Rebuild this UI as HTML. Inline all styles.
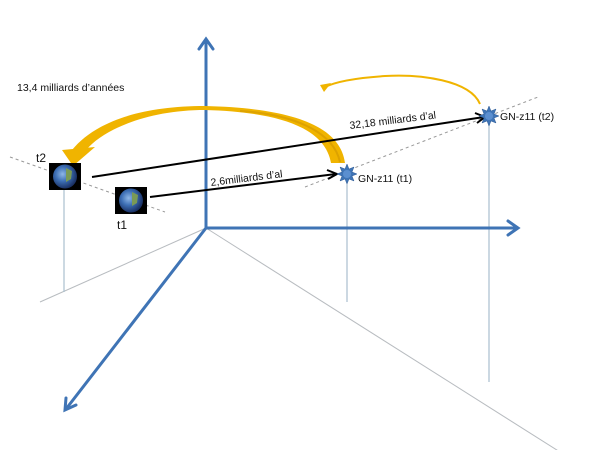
<!DOCTYPE html>
<html><head><style>
html,body{margin:0;padding:0;background:#fff;}
svg{display:block;}
text{font-family:"Liberation Sans",sans-serif;fill:#111;}
</style></head><body>
<svg width="600" height="450" viewBox="0 0 600 450" xmlns="http://www.w3.org/2000/svg">
<defs>
<radialGradient id="eg" cx="40%" cy="40%" r="60%">
<stop offset="0" stop-color="#8fb7e6"/><stop offset="0.5" stop-color="#3d6fb5"/><stop offset="1" stop-color="#1b3266"/>
</radialGradient>
</defs>
<g stroke="#b8bcc0" stroke-width="1" fill="none">
<line x1="206" y1="228" x2="40" y2="302"/>
<line x1="206" y1="228" x2="560" y2="452"/>
</g>
<g stroke="#a9bfcf" stroke-width="1.2" fill="none">
<line x1="64" y1="190" x2="64" y2="292"/>
<line x1="347" y1="184" x2="347" y2="302"/>
<line x1="489" y1="124" x2="489" y2="382"/>
</g>
<g stroke="#999" stroke-width="1" stroke-dasharray="3,3" fill="none">
<line x1="10" y1="157" x2="165" y2="212"/>
<line x1="305" y1="187" x2="538" y2="97"/>
</g>
<g stroke="#3f74b5" stroke-width="3" fill="none" stroke-linecap="round">
<line x1="206" y1="228" x2="206" y2="40"/>
<polyline points="199,49 206,39 213,49"/>
<line x1="206" y1="228" x2="517" y2="228"/>
<polyline points="508,221 518,228 508,235"/>
<line x1="206" y1="228" x2="66" y2="409"/>
<polyline points="66,398 65,410 76,405"/>
</g>
<!-- big yellow arc (filled band) -->
<path d="M345,163 C340,125 290,108 205,106 C140,106 95,122 72,150 L86,150 C105,128 150,110 205,110 C280,112 325,128 331,163 Z" fill="#f0b400"/>
<path d="M340,162 C333,130 290,114 240,111" stroke="#d49a00" stroke-width="2" fill="none" opacity="0.7"/>
<polygon points="62,150 95,147 73,166" fill="#f0b400"/>
<!-- small yellow arc -->
<path d="M480,104 C470,80 420,74 385,76 C355,78 335,82 325,87" stroke="#f0b400" stroke-width="2" fill="none"/>
<polygon points="320,85 331,83 324,92" fill="#f0b400"/>
<g stroke="#000" stroke-width="2" fill="none">
<line x1="92" y1="177" x2="484" y2="117"/>
<polyline points="475,113 485,117 477,123"/>
<line x1="150" y1="197" x2="336" y2="174"/>
<polyline points="327,170 337,174 328,179"/>
</g>
<rect x="49" y="163" width="32" height="27" fill="#000"/>
<circle cx="65" cy="176.5" r="12" fill="url(#eg)"/>
<path d="M66,168 l6,3 l-1,8 l-5,3 z" fill="#7a9a55"/>
<rect x="115" y="187" width="32" height="27" fill="#000"/>
<circle cx="131" cy="200.5" r="12" fill="url(#eg)"/>
<path d="M132,192 l6,3 l-1,8 l-5,3 z" fill="#7a9a55"/>
<g fill="#3f74b5" stroke="#2c5a96" stroke-width="0.5">
<polygon points="347,164 349,169 354,167 352,172 357,174 352,176 354,181 349,179 347,184 345,179 340,181 342,176 337,174 342,172 340,167 345,169"/>
<polygon points="489,106 491,111 496,109 494,114 499,116 494,118 496,123 491,121 489,126 487,121 482,123 484,118 479,116 484,114 482,109 487,111"/>
</g>
<circle cx="347" cy="174" r="4" fill="#5b8fd0"/>
<circle cx="489" cy="116" r="4" fill="#5b8fd0"/>
<text x="17" y="91" font-size="10.5">13,4 milliards d’années</text>
<text x="36" y="162" font-size="12">t2</text>
<text x="117" y="229" font-size="12">t1</text>
<text x="211" y="186" font-size="10.5" transform="rotate(-7 211 186)">2,6milliards d’al</text>
<text x="350" y="129" font-size="10.5" transform="rotate(-7 350 129)">32,18 milliards d’al</text>
<text x="358" y="182" font-size="10.5">GN-z11 (t1)</text>
<text x="500" y="120" font-size="10.5">GN-z11 (t2)</text>
</svg>
</body></html>
